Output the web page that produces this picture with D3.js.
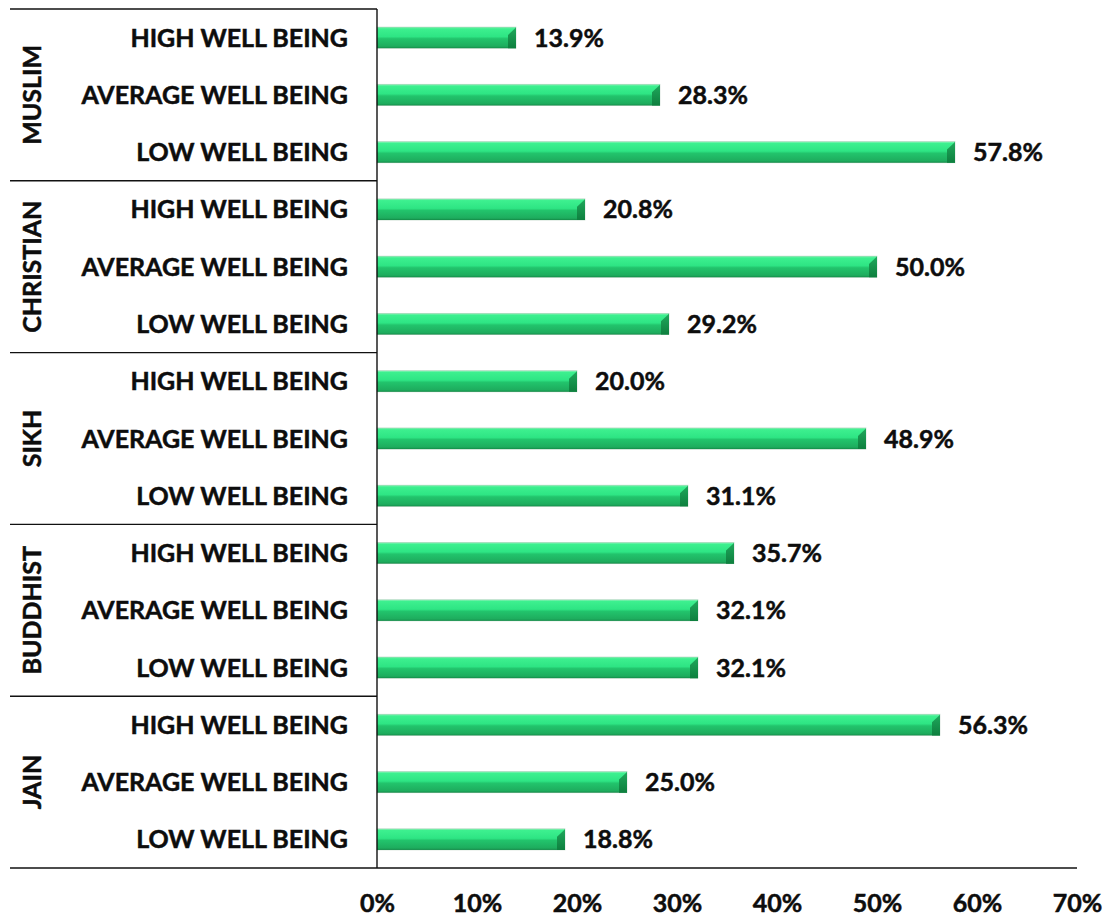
<!DOCTYPE html>
<html>
<head>
<meta charset="utf-8">
<script src="https://cdn.jsdelivr.net/npm/d3@7"></script>
<style>
  html, body { margin: 0; padding: 0; background: #fff; }
  svg { display: block; }
  text { font-family: Lato, "Open Sans", sans-serif; font-weight: 700; fill: #0d0d0d; stroke: #0d0d0d; stroke-width: 0.5px; }
</style>
</head>
<body>
<svg id="chart" width="1110" height="917"></svg>
<script>
// Religious groups (outer category) and well-being levels (inner category)
const groups = ["MUSLIM", "CHRISTIAN", "SIKH", "BUDDHIST", "JAIN"];
const levels = ["HIGH WELL BEING", "AVERAGE WELL BEING", "LOW WELL BEING"];

// Percentage of respondents at each level, per group (HIGH, AVERAGE, LOW)
const muslim    = [13.9, 28.3, 57.8];
const christian = [20.8, 50.0, 29.2];
const sikh      = [20.0, 48.9, 31.1];
const buddhist  = [35.7, 32.1, 32.1];
const jain      = [56.3, 25.0, 18.8];

const xTicks = [0, 10, 20, 30, 40, 50, 60, 70];

const seriesByGroup = [muslim, christian, sikh, buddhist, jain];
const rows = [];
groups.forEach((g, gi) => {
  levels.forEach((lv, li) => {
    rows.push({ key: gi * 3 + li, group: g, level: lv, value: seriesByGroup[gi][li] });
  });
});

const svg = d3.select("#chart");
const plotLeft = 377, plotRight = 1077, plotTop = 9, plotBottom = 868, outerLeft = 10;
const fontSize = 25;

const x = d3.scaleLinear().domain([0, 70]).range([plotLeft, plotRight]);
const y = d3.scaleBand()
  .domain(rows.map(r => r.key))
  .range([plotTop, plotBottom])
  .paddingInner(0.63)
  .paddingOuter(0.315);
const groupBand = d3.scaleBand().domain(groups).range([plotTop, plotBottom]);

// Bar shading: light upper face, darker lower face
const defs = svg.append("defs");
const grad = defs.append("linearGradient").attr("id", "barFill")
  .attr("x1", 0).attr("y1", 0).attr("x2", 0).attr("y2", 1);
[[0, "#9ff5c4"], [0.08, "#3df08f"], [0.45, "#2ee584"], [0.55, "#22c46c"], [0.9, "#1ead5e"], [1, "#16924d"]]
  .forEach(([o, c]) => grad.append("stop").attr("offset", o).attr("stop-color", c));
const capGrad = defs.append("linearGradient").attr("id", "capFill")
  .attr("x1", 0).attr("y1", 0).attr("x2", 0).attr("y2", 1);
[[0, "#1fa85c"], [1, "#0e7f3e"]]
  .forEach(([o, c]) => capGrad.append("stop").attr("offset", o).attr("stop-color", c));

const bh = y.bandwidth();
const bar = svg.append("g").selectAll("g.bar").data(rows).join("g").attr("class", "bar");
bar.append("rect")
  .attr("x", x(0))
  .attr("y", d => y(d.key))
  .attr("width", d => x(d.value) - x(0))
  .attr("height", bh)
  .attr("fill", "url(#barFill)")
  .attr("stroke", "rgba(0,80,30,0.18)")
  .attr("stroke-width", 0.8);
// bevelled right end of each bar
bar.append("polygon")
  .attr("points", d => {
    const xe = x(d.value), yt = y(d.key), yb = yt + bh, c = 8;
    return [[xe, yt + 0.5], [xe, yb], [xe - c, yb], [xe - c, yt + c]].map(p => p.join(",")).join(" ");
  })
  .attr("fill", "url(#capFill)");

// value labels
svg.append("g").selectAll("text").data(rows).join("text")
  .attr("x", d => x(d.value) + 18)
  .attr("y", d => y(d.key) + bh / 2 + 9)
  .attr("font-size", fontSize)
  .text(d => d.value.toFixed(1) + "%");

// inner category labels
svg.append("g").selectAll("text").data(rows).join("text")
  .attr("x", 348)
  .attr("y", d => y(d.key) + bh / 2 + 9)
  .attr("text-anchor", "end")
  .attr("font-size", fontSize)
  .text(d => d.level);

// outer group labels (rotated)
svg.append("g").selectAll("text").data(groups).join("text")
  .attr("transform", g => `translate(${41},${groupBand(g) + groupBand.bandwidth() / 2}) rotate(-90)`)
  .attr("text-anchor", "middle")
  .attr("font-size", fontSize)
  .text(g => g);

// frame lines: group separators, value axis line, baseline
const lines = svg.append("g").attr("stroke", "#111").attr("stroke-width", 1.4);
lines.selectAll("line.sep").data(groups).join("line").attr("class", "sep")
  .attr("x1", outerLeft).attr("x2", plotLeft)
  .attr("y1", g => groupBand(g)).attr("y2", g => groupBand(g));
lines.append("line").attr("x1", plotLeft).attr("x2", plotLeft).attr("y1", plotTop).attr("y2", plotBottom);
lines.append("line").attr("x1", outerLeft).attr("x2", plotRight).attr("y1", plotBottom).attr("y2", plotBottom);

// x axis tick labels
const xAxis = svg.append("g").attr("transform", `translate(0,${plotBottom})`)
  .call(d3.axisBottom(x).tickValues(xTicks).tickSize(0).tickFormat(d => d + "%"));
xAxis.select(".domain").remove();
xAxis.selectAll("text")
  .attr("y", 44).attr("dy", 0)
  .attr("font-size", fontSize)
  .attr("font-family", "Lato, 'Open Sans', sans-serif")
  .attr("font-weight", 700)
  .attr("fill", "#0d0d0d");
</script>
</body>
</html>
